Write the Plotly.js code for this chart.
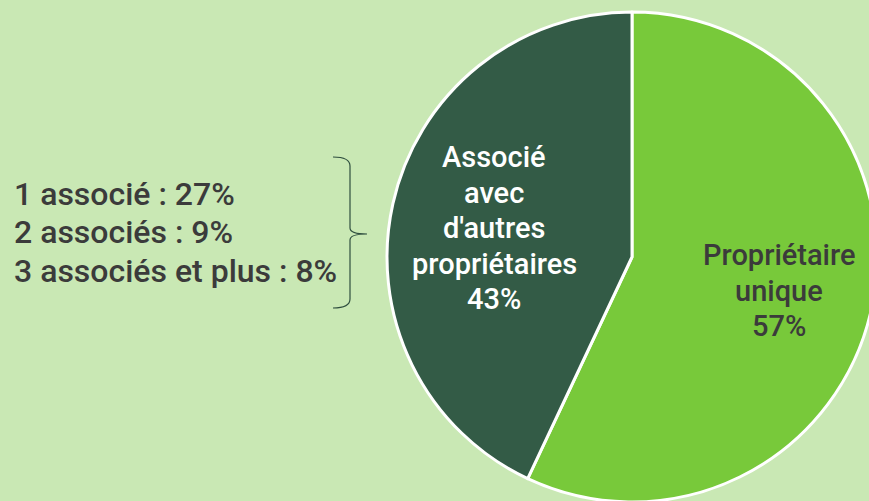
<!DOCTYPE html>
<html>
<head>
<meta charset="utf-8">
<script src="https://cdn.plot.ly/plotly-3.0.1.min.js"></script>
<style>
html,body{margin:0;padding:0;overflow:hidden;background:#c9e8b4;width:869px;height:501px;}
#chart{width:880px;height:505px;}
</style>
</head>
<body>
<div id="chart"></div>
<script>
// Data
const sliceLabels = ["Propriétaire unique", "Associé avec d'autres propriétaires"];
const sliceTextLines = [["Propriétaire", "unique"], ["Associé", "avec", "d'autres", "propriétaires"]];
const sliceValues = [57, 43];
const breakdownLabels = ["1 associé", "2 associés", "3 associés et plus"];
const breakdownValues = [27, 9, 8];

const W = 880, H = 505;
const px = x => x / W;
const py = y => 1 - y / H;

const bg = '#c9e8b4';
const textColor = '#3b3b3b';
const fontFam = 'Roboto, "Open Sans", sans-serif';
const sliceColors = ['#78c93a', '#335b46'];
const sliceFontColors = [textColor, '#ffffff'];

const cx = 632, cy = 257, r = 245;

const trace = {
  type: 'pie',
  labels: sliceLabels,
  values: sliceValues,
  textinfo: 'none',
  sort: false,
  direction: 'clockwise',
  rotation: 0,
  marker: {colors: sliceColors, line: {color: '#ffffff', width: 3}},
  hoverinfo: 'label+percent',
  showlegend: false,
  domain: {x: [px(cx - r), px(cx + r)], y: [py(cy + r), py(cy - r)]}
};

const annotations = breakdownLabels.map((l, i) => ({
  xref: 'paper', yref: 'paper',
  x: px(12), y: py(194 + i * 38.5),
  xanchor: 'left', yanchor: 'middle',
  text: l + ' : ' + breakdownValues[i] + '%',
  showarrow: false,
  font: {family: fontFam, size: 32, color: textColor, weight: 500}
}));

// slice label placement (layout only)
const labelPos = [{x: 779, y: 255}, {x: 494, y: 157}];
const lineStep = 35.5;
const total = sliceValues.reduce((a, b) => a + b, 0);
sliceTextLines.forEach((lines, k) => {
  const all = lines.concat([Math.round(sliceValues[k] / total * 100) + '%']);
  all.forEach((t, j) => {
    annotations.push({
      xref: 'paper', yref: 'paper',
      x: px(labelPos[k].x), y: py(labelPos[k].y + j * lineStep),
      xanchor: 'center', yanchor: 'middle',
      text: t, showarrow: false,
      font: {family: fontFam, size: 29, color: sliceFontColors[k], weight: 500}
    });
  });
});

const brace = 'M ' + px(333) + ',' + py(157) +
  ' Q ' + px(350) + ',' + py(157) + ' ' + px(350) + ',' + py(166) +
  ' L ' + px(350) + ',' + py(228) +
  ' Q ' + px(350) + ',' + py(234) + ' ' + px(367) + ',' + py(234) +
  ' Q ' + px(350) + ',' + py(234) + ' ' + px(350) + ',' + py(240) +
  ' L ' + px(350) + ',' + py(299) +
  ' Q ' + px(350) + ',' + py(308) + ' ' + px(333) + ',' + py(308);

const layout = {
  width: W, height: H,
  margin: {l: 0, r: 0, t: 0, b: 0, pad: 0},
  paper_bgcolor: bg,
  plot_bgcolor: bg,
  annotations: annotations,
  shapes: [{type: 'path', xref: 'paper', yref: 'paper', path: brace, line: {color: '#2f4f3f', width: 1.2}}],
  font: {family: fontFam}
};

Plotly.newPlot('chart', [trace], layout, {displayModeBar: false, staticPlot: true});
</script>
</body>
</html>
